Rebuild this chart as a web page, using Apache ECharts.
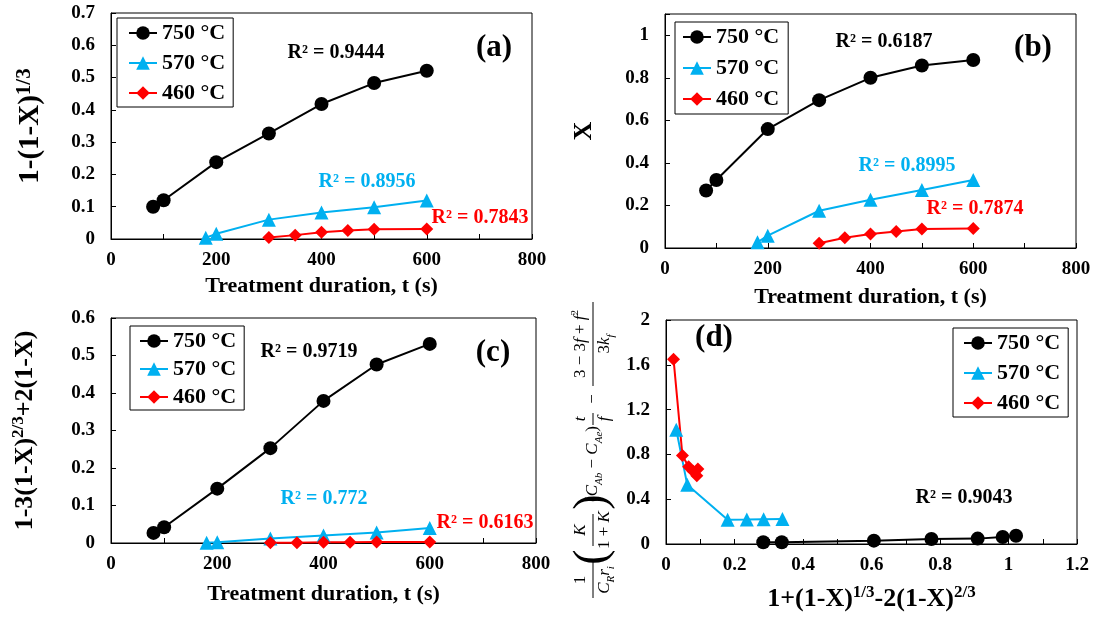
<!DOCTYPE html>
<html>
<head>
<meta charset="utf-8">
<script src="https://cdn.jsdelivr.net/npm/echarts@6/dist/echarts.min.js"></script>
<style>
  html, body { margin: 0; padding: 0; background: #ffffff; }
  #chart { width: 1094px; height: 617px; }
</style>
</head>
<body>
<div id="chart"></div>
<script>
// Treatment times (s) for each temperature
const t750 = [80, 100, 200, 300, 400, 500, 600];
const t570 = [180, 200, 300, 400, 500, 600];
const t460 = [300, 350, 400, 450, 500, 600];

// (a) 1-(1-X)^(1/3)
const a750 = [0.100, 0.120, 0.238, 0.327, 0.418, 0.483, 0.521];
const a570 = [0.004, 0.016, 0.060, 0.082, 0.098, 0.119];
const a460 = [0.005, 0.012, 0.021, 0.026, 0.030, 0.031];

// (b) conversion X
const b750 = [0.270, 0.320, 0.559, 0.695, 0.800, 0.858, 0.884];
const b570 = [0.027, 0.058, 0.175, 0.227, 0.273, 0.320];
const b460 = [0.022, 0.048, 0.066, 0.078, 0.089, 0.092];

// (c) 1-3(1-X)^(2/3)+2(1-X)
const c750 = [0.027, 0.042, 0.145, 0.253, 0.379, 0.476, 0.531];
const c570 = [0.001, 0.002, 0.012, 0.020, 0.028, 0.040];
const c460 = [0.001, 0.001, 0.002, 0.002, 0.003, 0.003];

// (d) mixed-control linearisation
const d750x = [0.284, 0.338, 0.607, 0.775, 0.910, 0.983, 1.022];
const d750y = [0.015, 0.015, 0.030, 0.045, 0.048, 0.062, 0.074];
const d570x = [0.030, 0.062, 0.180, 0.236, 0.285, 0.340];
const d570y = [1.02, 0.53, 0.217, 0.218, 0.222, 0.223];
const d460x = [0.022, 0.048, 0.066, 0.079, 0.090, 0.093];
const d460y = [1.65, 0.79, 0.69, 0.65, 0.61, 0.67];

const seriesNames = ['750 °C', '570 °C', '460 °C'];
const fitLabels = {
  a: ['R² = 0.9444', 'R² = 0.8956', 'R² = 0.7843'],
  b: ['R² = 0.6187', 'R² = 0.8995', 'R² = 0.7874'],
  c: ['R² = 0.9719', 'R² = 0.772', 'R² = 0.6163'],
  d: ['R² = 0.9043']
};
const panelTags = ['(a)', '(b)', '(c)', '(d)'];

const FONT = '"Liberation Serif", "Times New Roman", serif';
const COLORS = ['#000000', '#00B0F0', '#FF0000'];
const SYMBOLS = ['circle', 'triangle', 'diamond'];
const SYMBOL_SIZES = [14, 14, 13];

function pairs(xs, ys) { return xs.map((x, i) => [x, ys[i]]); }

function isStep(v, step) {
  const r = v / step;
  return Math.abs(r - Math.round(r)) < 1e-6;
}

function valueAxis(gridIndex, o) {
  return {
    type: 'value',
    gridIndex: gridIndex,
    min: o.min, max: o.max, interval: o.interval,
    name: o.name || '',
    nameLocation: 'middle',
    nameGap: o.nameGap || 30,
    nameRotate: o.nameRotate,
    nameTextStyle: o.nameTextStyle,
    axisLine: { show: true, onZero: false, lineStyle: { color: '#000', width: 1 } },
    axisTick: { show: true, inside: true, length: 5, lineStyle: { color: '#000', width: 1 } },
    splitLine: { show: false },
    axisLabel: {
      show: true,
      margin: o.labelMargin || 12,
      color: '#000',
      fontFamily: FONT,
      fontWeight: 'bold',
      fontSize: 19,
      showMaxLabel: true,
      formatter: function (v) {
        if (!isStep(v, o.labelStep)) return '';
        return String(+v.toFixed(2));
      }
    }
  };
}

const xTitleStyle = { fontFamily: FONT, fontWeight: 'bold', fontSize: 22, color: '#000' };
function supRich(main, sup) {
  return {
    m: { fontFamily: FONT, fontWeight: 'bold', fontSize: main, color: '#000', lineHeight: main + 4 },
    s: { fontFamily: FONT, fontWeight: 'bold', fontSize: sup, color: '#000', verticalAlign: 'top', lineHeight: sup + 3 }
  };
}

const grids = [
  { left: 111, top: 13, width: 421, height: 226 },
  { left: 665, top: 14, width: 411, height: 234 },
  { left: 111, top: 318, width: 425, height: 225 },
  { left: 666, top: 320, width: 411, height: 224 }
].map(g => Object.assign({ show: true, borderColor: '#000', borderWidth: 1, backgroundColor: 'transparent' }, g));

const xAxes = [
  valueAxis(0, { min: 0, max: 800, interval: 100, labelStep: 200, name: 'Treatment duration, t (s)', nameGap: 36, nameTextStyle: xTitleStyle }),
  valueAxis(1, { min: 0, max: 800, interval: 100, labelStep: 200, name: 'Treatment duration, t (s)', nameGap: 38, nameTextStyle: xTitleStyle }),
  valueAxis(2, { min: 0, max: 800, interval: 100, labelStep: 200, name: 'Treatment duration, t (s)', nameGap: 40, nameTextStyle: xTitleStyle }),
  valueAxis(3, { min: 0, max: 1.2, interval: 0.1, labelStep: 0.2,
    name: '{m|1+(1-X)}{s|1/3}{m|-2(1-X)}{s|2/3}', nameGap: 40,
    nameTextStyle: { rich: supRich(26, 17) } })
];

const yAxes = [
  valueAxis(0, { min: 0, max: 0.7, interval: 0.1, labelStep: 0.1, labelMargin: 16,
    name: '{m|1-(1-X)}{s|1/3}', nameGap: 64, nameRotate: 90, nameTextStyle: { rich: supRich(29, 21) } }),
  valueAxis(1, { min: 0, max: 1.1, interval: 0.2, labelStep: 0.2, labelMargin: 16,
    name: '{m|X}', nameGap: 66, nameRotate: 90, nameTextStyle: { rich: supRich(26, 17) } }),
  valueAxis(2, { min: 0, max: 0.6, interval: 0.1, labelStep: 0.1, labelMargin: 16,
    name: '{m|1-3(1-X)}{s|2/3}{m|+2(1-X)}', nameGap: 71, nameRotate: 90, nameTextStyle: { rich: supRich(26, 17) } }),
  valueAxis(3, { min: 0, max: 2, interval: 0.4, labelStep: 0.4, labelMargin: 16, name: '' })
];

const panelData = [
  [pairs(t750, a750), pairs(t570, a570), pairs(t460, a460)],
  [pairs(t750, b750), pairs(t570, b570), pairs(t460, b460)],
  [pairs(t750, c750), pairs(t570, c570), pairs(t460, c460)],
  [pairs(d750x, d750y), pairs(d570x, d570y), pairs(d460x, d460y)]
];

const series = [];
panelData.forEach((sets, gi) => {
  sets.forEach((data, k) => {
    series.push({
      type: 'line',
      name: seriesNames[k],
      xAxisIndex: gi,
      yAxisIndex: gi,
      data: data,
      symbol: SYMBOLS[k],
      symbolSize: SYMBOL_SIZES[k],
      showAllSymbol: true,
      clip: false,
      animation: false,
      lineStyle: { color: COLORS[k], width: 2 },
      itemStyle: { color: COLORS[k], borderWidth: 0 },
      emphasis: { disabled: true }
    });
  });
});

function legendAt(left, top, gap, padding) {
  return {
    show: true,
    data: seriesNames,
    orient: 'vertical',
    left: left, top: top,
    itemWidth: 28, itemHeight: 17,
    itemGap: gap,
    padding: padding,
    borderColor: '#000', borderWidth: 1,
    backgroundColor: '#fff',
    selectedMode: false,
    textStyle: { fontFamily: FONT, fontWeight: 'bold', fontSize: 22, color: '#000', padding: [0, 0, 0, 0] }
  };
}

const legends = [
  legendAt(117, 18, 8, [4, 8, 3, 11]),
  legendAt(675, 22, 9, [4, 9, 4, 7]),
  legendAt(130, 326, 6, [4, 8, 2, 9]),
  legendAt(953, 328, 8, [4, 8, 3, 10])
];

// Annotations: fit quality and panel tags
function label(x, y, text, color, size) {
  return {
    type: 'text', x: x, y: y, z: 10,
    style: {
      text: text, fill: color, fontFamily: FONT, fontWeight: 'bold',
      fontSize: size, align: 'center', verticalAlign: 'middle'
    }
  };
}

const annotations = [
  label(336, 53, fitLabels.a[0], COLORS[0], 20),
  label(367, 182, fitLabels.a[1], COLORS[1], 20),
  label(480, 218, fitLabels.a[2], COLORS[2], 20),
  label(884, 42, fitLabels.b[0], COLORS[0], 20),
  label(907, 166, fitLabels.b[1], COLORS[1], 20),
  label(975, 209, fitLabels.b[2], COLORS[2], 20),
  label(309, 352, fitLabels.c[0], COLORS[0], 20),
  label(324, 499, fitLabels.c[1], COLORS[1], 20),
  label(485, 523, fitLabels.c[2], COLORS[2], 20),
  label(964, 498, fitLabels.d[0], COLORS[0], 20),
  label(494, 48, panelTags[0], '#000', 31),
  label(1033, 48, panelTags[1], '#000', 31),
  label(493, 353, panelTags[2], '#000', 31),
  label(714, 338, panelTags[3], '#000', 31)
];

// Vertical title of panel (d): a typeset expression built from text pieces and fraction bars
const mathRich = {
  n: { fontFamily: FONT, fontSize: 17, fill: '#000', lineHeight: 23 },
  i: { fontFamily: FONT, fontSize: 17, fontStyle: 'italic', fill: '#000', lineHeight: 23 },
  sub: { fontFamily: FONT, fontSize: 11, fontStyle: 'italic', fill: '#000', verticalAlign: 'bottom' },
  sup: { fontFamily: FONT, fontSize: 11, fill: '#000', verticalAlign: 'top' }
};
function mt(x, y, text) {
  return { type: 'text', x: x, y: y, style: { text: text, rich: mathRich, align: 'center', verticalAlign: 'middle' } };
}
function bar(x1, x2) {
  return { type: 'line', shape: { x1: x1, y1: 0, x2: x2, y2: 0 }, style: { stroke: '#000', lineWidth: 1 } };
}
function paren(x, ch) {
  return { type: 'text', x: x, y: 0, style: { text: ch, fontFamily: FONT, fontSize: 46, fill: '#000', align: 'center', verticalAlign: 'middle' } };
}
const dTitle = {
  type: 'group', x: 593, y: 450, rotation: Math.PI / 2,
  children: [
    mt(-130, -12, '{n|1}'), bar(-148, -112), mt(-130, 12, '{i|C}{sub|R}{i|r}{sub|i}'),
    paren(-107, '('), mt(-80, -12, '{i|K}'), bar(-96, -64), mt(-80, 12, '{n|1 + }{i|K}'), paren(-52, ')'),
    mt(-14, 0, '{n|(}{i|C}{sub|Ab}{n| − }{i|C}{sub|Ae}{n|)}'),
    mt(31, -12, '{i|t}'), bar(25, 37), mt(31, 12, '{i|f}'),
    mt(51, 0, '{n|−}'),
    mt(106, -12, '{n|3 − 3}{i|f}{n| + }{i|f}{sup|2}'), bar(64, 148), mt(106, 12, '{n|3}{i|k}{sub|f}')
  ]
};

const chart = echarts.init(document.getElementById('chart'), null, { renderer: 'canvas' });
chart.setOption({
  animation: false,
  backgroundColor: '#ffffff',
  grid: grids,
  xAxis: xAxes,
  yAxis: yAxes,
  legend: legends,
  series: series,
  graphic: annotations.concat([dTitle])
});
</script>
</body>
</html>
